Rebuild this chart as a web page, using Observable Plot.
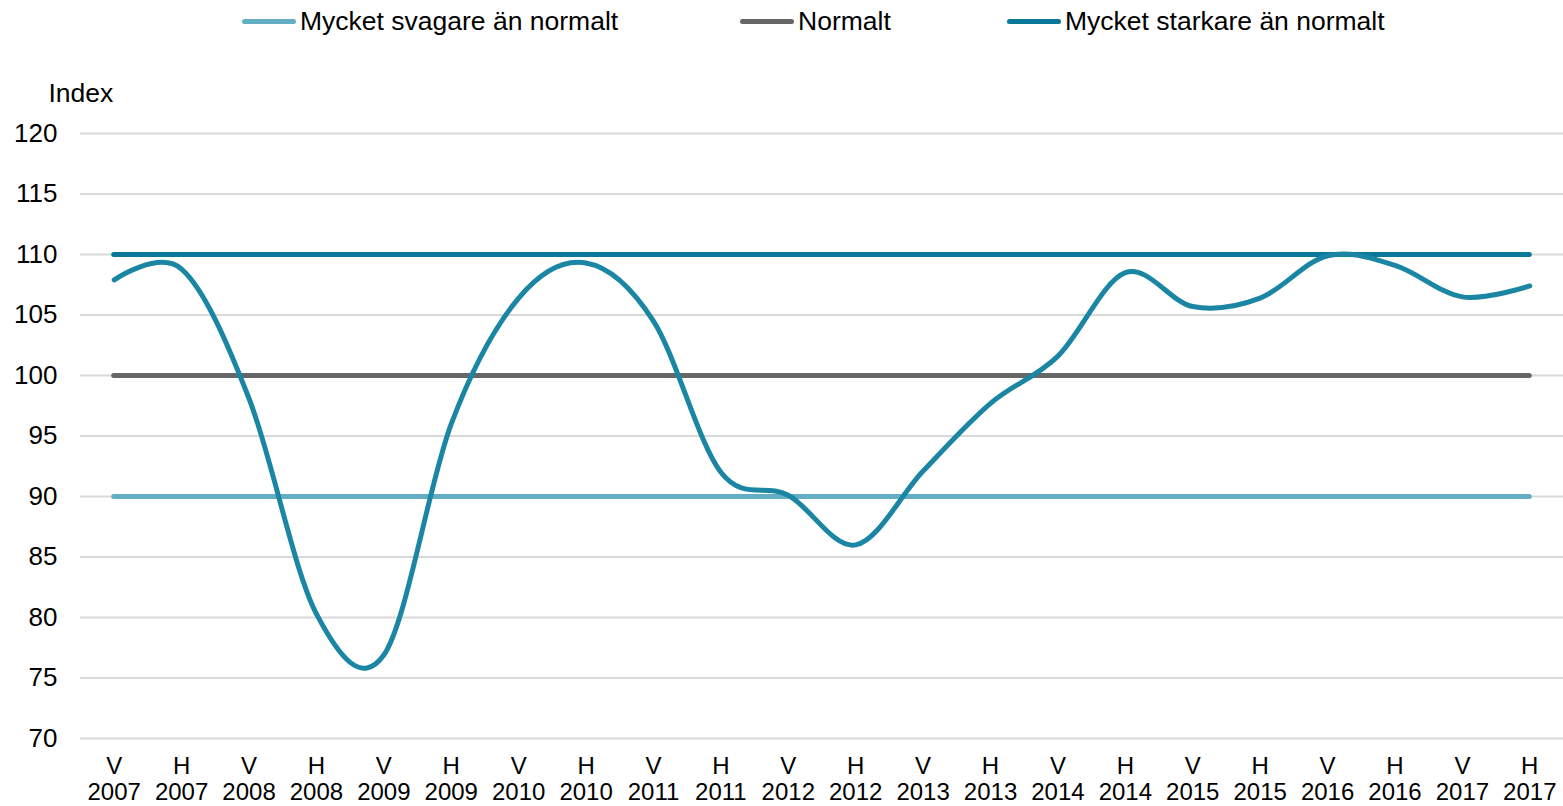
<!DOCTYPE html>
<html>
<head>
<meta charset="utf-8">
<script src="https://cdn.jsdelivr.net/npm/d3@7"></script>
<script src="https://cdn.jsdelivr.net/npm/@observablehq/plot@0.6"></script>
<style>
  html, body { margin: 0; padding: 0; background: #fff; }
  body { width: 1563px; height: 806px; overflow: hidden; font-family: "Liberation Sans", Arial, sans-serif; }
  #legend { position: relative; height: 45px; width: 1563px; }
  .item { position: absolute; top: 0; height: 42px; display: flex; align-items: center; font-size: 26.5px; color: #000; white-space: nowrap; }
  .sw { width: 54px; height: 5px; border-radius: 3px; margin-right: 4px; }
</style>
</head>
<body>
<div id="legend"></div>
<div id="chart"></div>
<script>
// Categories (halvår)
const halves = ["V","H","V","H","V","H","V","H","V","H","V","H","V","H","V","H","V","H","V","H","V","H"];
const years  = ["2007","2007","2008","2008","2009","2009","2010","2010","2011","2011","2012","2012","2013","2013","2014","2014","2015","2015","2016","2016","2017","2017"];
const categories = halves.map((h, i) => h + "\n" + years[i]);

// Index series
const indexValues = [107.9, 108.8, 98.1, 80.3, 76.9, 96.0, 106.4, 109.3, 104.5, 92.0, 90.1, 86.0, 92.1, 97.7, 101.6, 108.5, 105.7, 106.4, 109.9, 109.1, 106.5, 107.4];

// Reference levels
const refNames  = ["Mycket svagare än normalt", "Normalt", "Mycket starkare än normalt"];
const refValues = [90, 100, 110];
const refColors = ["#64aec4", "#666666", "#0b7799"];
const seriesColor = "#1b86a3";

const yTicks = [70, 75, 80, 85, 90, 95, 100, 105, 110, 115, 120];

// Legend
const legendLeft = [242, 740, 1007];
const legend = document.getElementById("legend");
refNames.forEach((name, i) => {
  const it = document.createElement("div");
  it.className = "item";
  it.style.left = legendLeft[i] + "px";
  it.innerHTML = `<span class="sw" style="background:${refColors[i]}"></span><span>${name}</span>`;
  legend.appendChild(it);
});

const data = categories.map((c, i) => ({cat: c, value: indexValues[i]}));
const refs = refValues.map((v, i) => ({value: v, color: refColors[i]}));
const firstCat = categories[0];
const lastCat = categories[categories.length - 1];

const chart = Plot.plot({
  width: 1563,
  height: 761,
  marginLeft: 80,
  marginRight: 0,
  marginTop: 88,
  marginBottom: 68,
  style: {fontFamily: "'Liberation Sans', Arial, sans-serif", fontSize: "26px", color: "#000", background: "#fff"},
  x: {type: "point", domain: categories, padding: 0.5, round: false},
  y: {domain: [70, 120]},
  marks: [
    Plot.gridY(yTicks, {stroke: "#d9d9d9", strokeOpacity: 1, strokeWidth: 2}),
    Plot.axisY(yTicks, {tickSize: 0, tickPadding: 23, fontSize: 26, label: null}),
    Plot.axisX({tickSize: 0, tickPadding: 17, fontSize: 24, lineHeight: 1.08, label: null, tickFormat: d => d}),
    Plot.text(["Index"], {frameAnchor: "top-left", text: d => d, dx: -32, dy: -32, textAnchor: "start", lineAnchor: "bottom", fontSize: 26.5}),
    Plot.ruleY(refs, {y: "value", x1: () => firstCat, x2: () => lastCat, stroke: "color", strokeWidth: 5, strokeLinecap: "round"}),
    Plot.line(data, {x: "cat", y: "value", curve: "cardinal", stroke: seriesColor, strokeWidth: 5, strokeLinecap: "round", strokeLinejoin: "round"})
  ]
});
document.getElementById("chart").appendChild(chart);
</script>
</body>
</html>
